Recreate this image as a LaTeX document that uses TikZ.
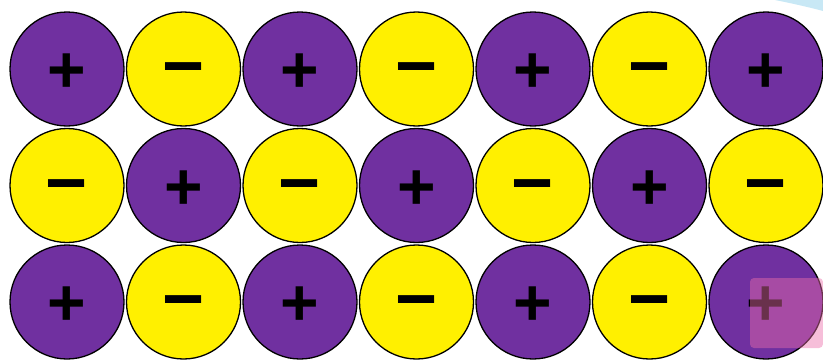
\documentclass[tikz,border=0pt]{standalone}
\usepackage{fontspec}
\setmainfont{Liberation Sans}
\usepackage{xcolor}
\usepackage{tikz}
\definecolor{cationpurple}{HTML}{7030A0}
\definecolor{anionyellow}{HTML}{FFF000}
\definecolor{glarepink}{RGB}{235,110,170}
\definecolor{glareblue}{RGB}{200,232,245}

\begin{document}
\begin{tikzpicture}[
  x=1pt, y=1pt,
  ion/.style={circle, draw=black, line width=1.3pt, minimum size=114pt, inner sep=0pt,
    text depth=0pt},
  cation/.style={ion, fill=cationpurple, text height=47pt, font=\fontsize{66}{66}\selectfont\bfseries},
  anion/.style={ion, fill=anionyellow, text height=43pt, font=\fontsize{72}{72}\selectfont\bfseries},
]
  \useasboundingbox (0,0) rectangle (823,360);

  % faint glare at the top right
  \fill[glareblue] (775,360) .. controls (795,356) and (812,352) .. (823,349) -- (823,360) -- cycle;

  % lattice of ions
  \foreach \r in {0,1,2} {
    \foreach \c in {0,...,6} {
      \pgfmathtruncatemacro{\parity}{mod(\r+\c,2)}
      \ifnum\parity=0
        \node[cation] (ion-\r-\c) at (67+116.5*\c, 291-116.5*\r) {+};
      \else
        \node[anion] (ion-\r-\c) at (67+116.5*\c, 291-116.5*\r) {−};
      \fi
    }
  }

  % pink overlay in the corner
  \fill[glarepink, opacity=0.45, rounded corners=4pt] (750,12) rectangle (823,82);
\end{tikzpicture}
\end{document}
